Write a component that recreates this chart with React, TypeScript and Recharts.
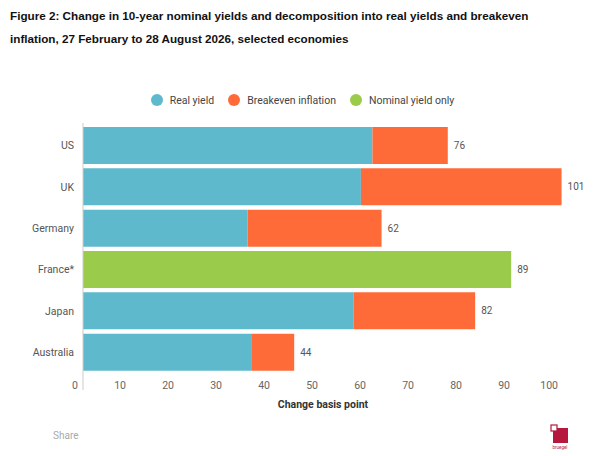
import React from 'react';
import { BarChart, Bar, XAxis, YAxis, Legend, LabelList, ReferenceLine } from 'recharts';

const categories = ['US', 'UK', 'Germany', 'France*', 'Japan', 'Australia'];
const realYield = [60.3, 57.9, 34.3, null, 56.4, 35.2];
const breakevenInflation = [15.7, 41.8, 27.9, null, 25.3, 8.8];
const nominalYieldOnly = [null, null, null, 89.2, null, null];
const totalLabels = [76, 101, 62, 89, 82, 44];
const xTicks = [0, 10, 20, 30, 40, 50, 60, 70, 80, 90, 100];
const seriesOrder = ['Real yield', 'Breakeven inflation', 'Nominal yield only'];

const data = categories.map((c, i) => ({
  country: c,
  real: realYield[i],
  breakeven: breakevenInflation[i],
  nominal: nominalYieldOnly[i],
  breakevenLabel: breakevenInflation[i] != null ? totalLabels[i] : null,
  nominalLabel: nominalYieldOnly[i] != null ? totalLabels[i] : null,
}));

const FONT = "Roboto, 'Noto Sans', sans-serif";
const TEAL = '#5fb9cd';
const ORANGE = '#ff6b38';
const GREEN = '#9bcb4b';

const XTick = (props: any) => {
  const { x, y, payload } = props;
  return (
    <text x={x - 5} y={y + 12} textAnchor="end" dominantBaseline="central" fill="#666" fontSize={10.5} fontFamily={FONT}>
      {payload.value}
    </text>
  );
};

const TotalLabel = (props: any) => {
  const { x, y, width, height, value } = props;
  if (value == null) return null;
  return (
    <text x={x + width + 6} y={y + height / 2} dominantBaseline="central" fill="#555" fontSize={10} fontFamily={FONT}>
      {value}
    </text>
  );
};

const AxisLineShape = (props: any) => {
  const { x1, x2, y1, y2 } = props;
  const top = Math.min(y1, y2);
  const bottom = Math.max(y1, y2);
  return <line x1={x1} x2={x2} y1={top - 2} y2={bottom + 17} stroke="#cccccc" strokeWidth={1} />;
};

const LegendContent = (props: any) => {
  const payload = [...(props.payload || [])].sort(
    (a: any, b: any) => seriesOrder.indexOf(a.value) - seriesOrder.indexOf(b.value)
  );
  return (
    <div style={{ display: 'flex', justifyContent: 'center', alignItems: 'center', height: 14, fontFamily: FONT, fontSize: 10.5, color: '#444' }}>
      {payload.map((p: any, i: number) => (
        <div key={i} style={{ display: 'flex', alignItems: 'center', marginRight: i < 2 ? 14 : 0 }}>
          <span style={{ width: 12, height: 12, borderRadius: 6, background: p.color, display: 'inline-block', marginRight: 7 }} />
          <span>{p.value}</span>
        </div>
      ))}
    </div>
  );
};

export default function App() {
  return (
    <div style={{ position: 'absolute', left: 0, top: 0, width: 605, height: 456, background: '#fff', overflow: 'hidden' }}>
      <div style={{ position: 'absolute', left: 10, top: 4, width: 595, fontFamily: "'Liberation Sans', Arial, sans-serif", fontWeight: 'bold', fontSize: 11.7, lineHeight: '23px', color: '#111', whiteSpace: 'nowrap' }}>
        Figure 2: Change in 10-year nominal yields and decomposition into real yields and breakeven<br />
        inflation, 27 February to 28 August 2026, selected economies
      </div>
      <div style={{ position: 'absolute', left: 0, top: 0 }}>
        <BarChart
          width={605}
          height={456}
          data={data}
          layout="vertical"
          margin={{ top: 111, right: 42, bottom: 36, left: 23 }}
          barSize={37}
        >
          <XAxis
            type="number"
            domain={[0, 100]}
            ticks={xTicks}
            tick={<XTick />}
            tickLine={false}
            axisLine={false}
            tickSize={0}
            tickMargin={0}
            height={47}
            allowDataOverflow
            label={{ value: 'Change basis point', position: 'insideBottom', offset: 12, fill: '#333', fontSize: 10.5, fontWeight: 'bold', fontFamily: FONT }}
          />
          <YAxis
            type="category"
            dataKey="country"
            width={60}
            tickLine={false}
            tickSize={0}
            tickMargin={9}
            axisLine={false}
            tick={{ fill: '#555', fontSize: 10.5, fontFamily: FONT }}
          />
          <Legend
            verticalAlign="top"
            height={14}
            content={<LegendContent />}
            wrapperStyle={{ position: 'absolute', top: 93, left: 0, width: 605 }}
          />
          <Bar dataKey="real" name="Real yield" stackId="a" fill={TEAL} isAnimationActive={false} />
          <Bar dataKey="breakeven" name="Breakeven inflation" stackId="a" fill={ORANGE} isAnimationActive={false}>
            <LabelList dataKey="breakevenLabel" content={<TotalLabel />} />
          </Bar>
          <Bar dataKey="nominal" name="Nominal yield only" stackId="a" fill={GREEN} isAnimationActive={false}>
            <LabelList dataKey="nominalLabel" content={<TotalLabel />} />
          </Bar>
          <ReferenceLine x={0} shape={<AxisLineShape />} />
        </BarChart>
      </div>
      <div style={{ position: 'absolute', left: 53, top: 430, fontFamily: FONT, fontSize: 10, color: '#aaa' }}>Share</div>
      <svg style={{ position: 'absolute', left: 548, top: 421 }} width={26} height={30}>
        <rect x={5} y={7} width={15} height={15} fill="#b5173f" />
        <rect x={3} y={4} width={6} height={6} fill="#fff" stroke="#b5173f" strokeWidth={1.2} />
        <text x={12} y={28} textAnchor="middle" fontSize={4.5} fill="#b5173f" fontFamily={FONT}>bruegel</text>
      </svg>
    </div>
  );
}
